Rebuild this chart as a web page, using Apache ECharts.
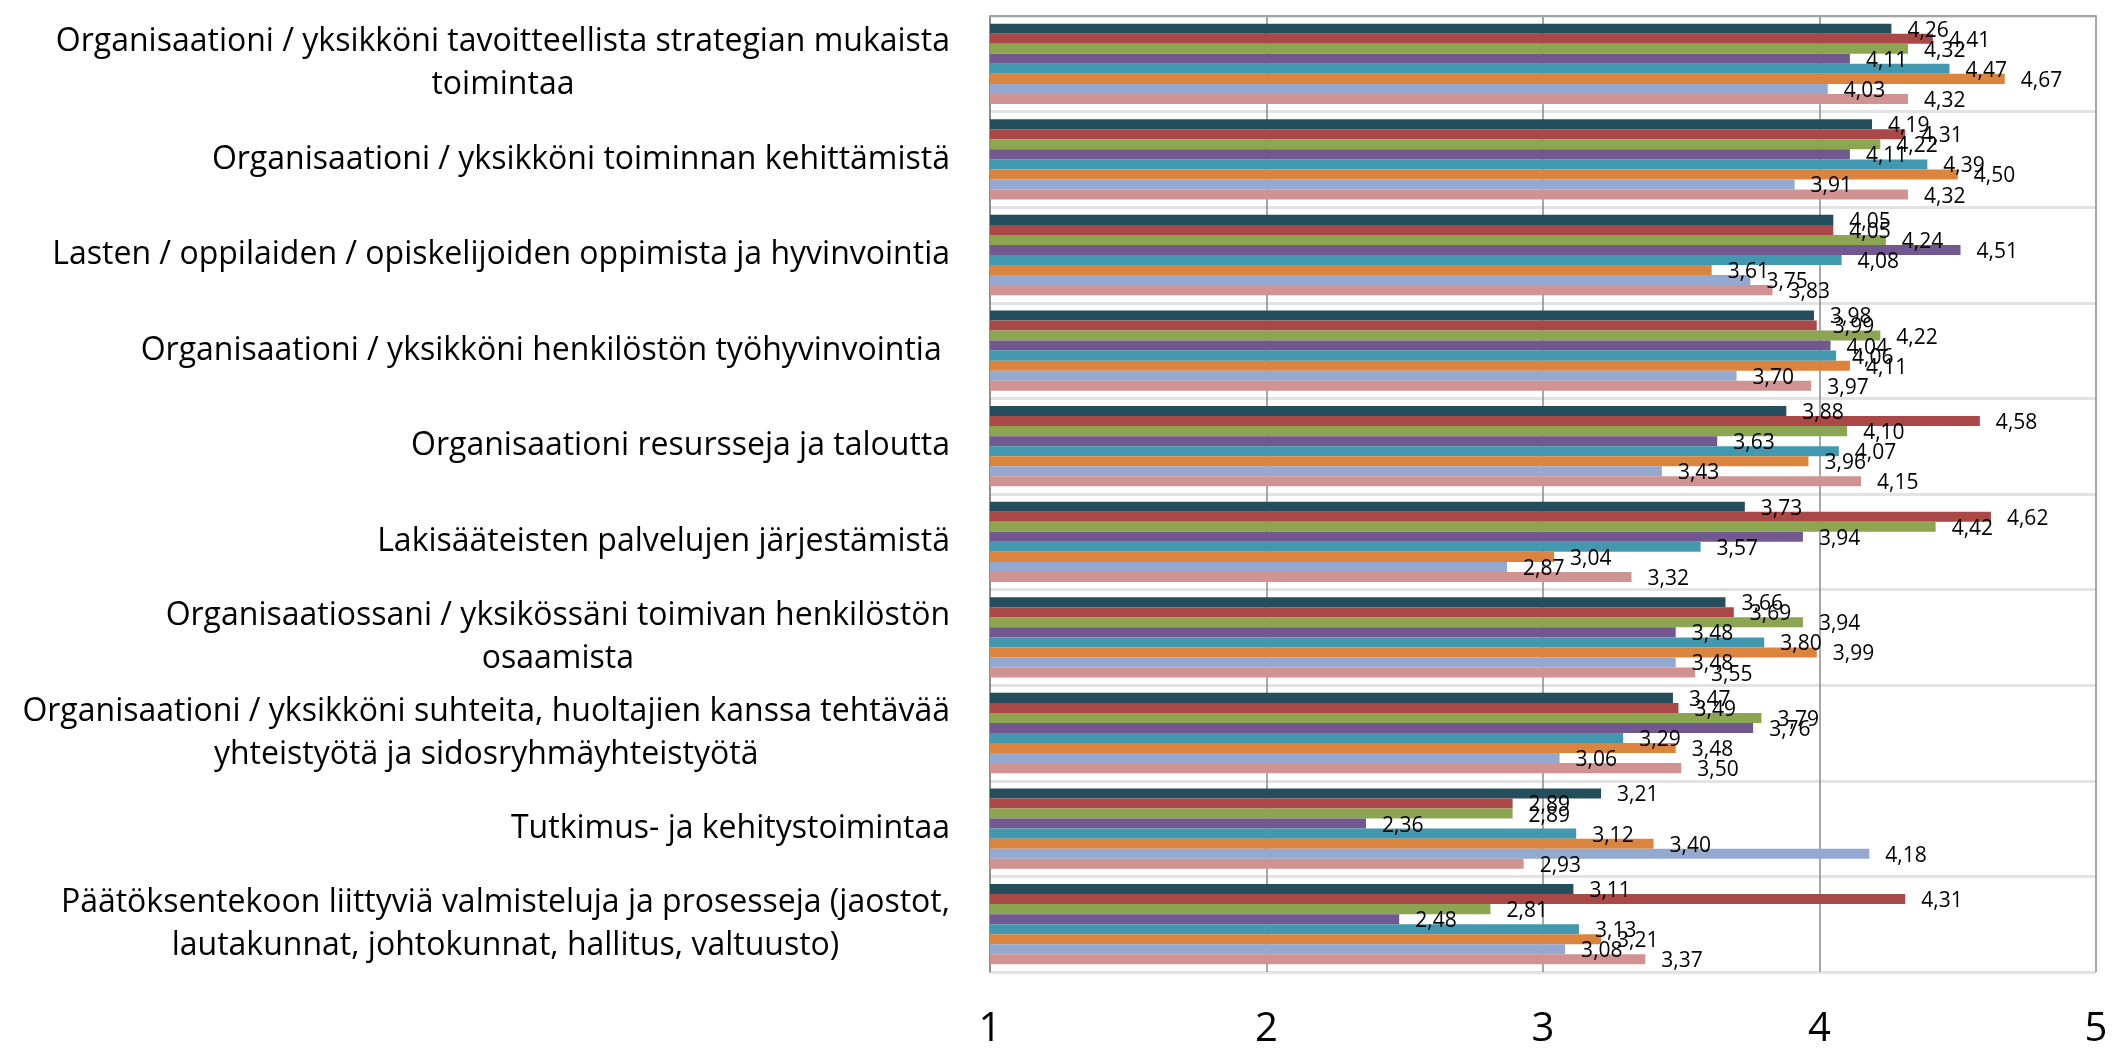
<!DOCTYPE html>
<html>
<head>
<meta charset="utf-8">
<script src="https://cdn.jsdelivr.net/npm/echarts@6/dist/echarts.min.js"></script>
<style>
  html, body { margin: 0; padding: 0; background: #ffffff; }
  #chart { width: 2127px; height: 1054px; }
</style>
</head>
<body>
<div id="chart"></div>
<script>
// kategoriat (ylhäältä alas)
var categories = [
  'Organisaationi / yksikköni tavoitteellista strategian mukaista\ntoimintaa',
  'Organisaationi / yksikköni toiminnan kehittämistä',
  'Lasten / oppilaiden / opiskelijoiden oppimista ja hyvinvointia',
  'Organisaationi / yksikköni henkilöstön työhyvinvointia ',
  'Organisaationi resursseja ja taloutta',
  'Lakisääteisten palvelujen järjestämistä',
  'Organisaatiossani / yksikössäni toimivan henkilöstön\nosaamista',
  'Organisaationi / yksikköni suhteita, huoltajien kanssa tehtävää\nyhteistyötä ja sidosryhmäyhteistyötä',
  'Tutkimus- ja kehitystoimintaa',
  'Päätöksentekoon liittyviä valmisteluja ja prosesseja (jaostot,\nlautakunnat, johtokunnat, hallitus, valtuusto)'
];

// sarjat (ryhmän sisällä ylhäältä alas)
var sarja1 = [4.26, 4.19, 4.05, 3.98, 3.88, 3.73, 3.66, 3.47, 3.21, 3.11];
var sarja2 = [4.41, 4.31, 4.05, 3.99, 4.58, 4.62, 3.69, 3.49, 2.89, 4.31];
var sarja3 = [4.32, 4.22, 4.24, 4.22, 4.10, 4.42, 3.94, 3.79, 2.89, 2.81];
var sarja4 = [4.11, 4.11, 4.51, 4.04, 3.63, 3.94, 3.48, 3.76, 2.36, 2.48];
var sarja5 = [4.47, 4.39, 4.08, 4.06, 4.07, 3.57, 3.80, 3.29, 3.12, 3.13];
var sarja6 = [4.67, 4.50, 3.61, 4.11, 3.96, 3.04, 3.99, 3.48, 3.40, 3.21];
var sarja7 = [4.03, 3.91, 3.75, 3.70, 3.43, 2.87, 3.48, 3.06, 4.18, 3.08];
var sarja8 = [4.32, 4.32, 3.83, 3.97, 4.15, 3.32, 3.55, 3.50, 2.93, 3.37];

var seriesData = [sarja1, sarja2, sarja3, sarja4, sarja5, sarja6, sarja7, sarja8];
var colors = ['#254E5C', '#A94846', '#8BA552', '#71588F', '#4298AF', '#DB843D', '#93A9CF', '#D19392'];

// x-akselin asteikko
var xMin = 1;
var xMax = 5;
var xStep = 1;

var font = '"Open Sans", Lato, sans-serif';

var series = seriesData.map(function (d, i) {
  return {
    name: 'Sarja ' + (i + 1),
    type: 'bar',
    data: d,
    barGap: '0%',
    barCategoryGap: '16%',
    itemStyle: { color: colors[i] },
    label: {
      show: true,
      position: 'right',
      distance: 16,
      offset: [0, 2],
      color: '#000000',
      fontFamily: font,
      fontSize: 21,
      formatter: function (p) {
        return p.value.toFixed(2).replace('.', ',')
      }
    }
  }
});

var myChart = echarts.init(document.getElementById('chart'));
var option = {
  animation: false,
  grid: {
    left: 990,
    right: 31,
    top: 16,
    bottom: 82,
    containLabel: false
  },
  xAxis: [
    {
      type: 'value',
      position: 'bottom',
      min: xMin,
      max: xMax,
      interval: xStep,
      axisLine: { show: false },
      axisTick: { show: false },
      splitLine: { lineStyle: { color: '#8a8a8a', width: 1.5 } },
      axisLabel: {
        margin: 38,
        color: '#000000',
        fontFamily: font,
        fontSize: 40
      }
    },
    {
      // yläreunan viiva
      type: 'value',
      position: 'top',
      min: xMin,
      max: xMax,
      interval: xStep,
      axisLine: { show: true, lineStyle: { color: '#a6a6a6', width: 2 } },
      axisTick: { show: false },
      axisLabel: { show: false },
      splitLine: { show: false }
    }
  ],
  yAxis: {
    type: 'category',
    data: categories,
    inverse: true,
    axisLine: { lineStyle: { color: '#868686', width: 1.5 } },
    axisTick: { length: 12, lineStyle: { color: '#868686', width: 1.5 } },
    splitLine: { show: true, lineStyle: { color: '#e3e3e3', width: 3 } },
    axisLabel: {
      interval: 0,
      margin: 40,
      formatter: function (v) {
        var lines = v.split('\n');
        var out = '{a|' + lines[0] + '}';
        for (var i = 1; i < lines.length; i++) {
          out += '\n{c|' + lines[i] + '}';
        }
        return out
      },
      rich: {
        a: { fontFamily: font, fontSize: 32, lineHeight: 43, color: '#000000' },
        c: { fontFamily: font, fontSize: 32, lineHeight: 43, color: '#000000', align: 'center' }
      }
    }
  },
  series: series
};
myChart.setOption(option);
</script>
</body>
</html>
